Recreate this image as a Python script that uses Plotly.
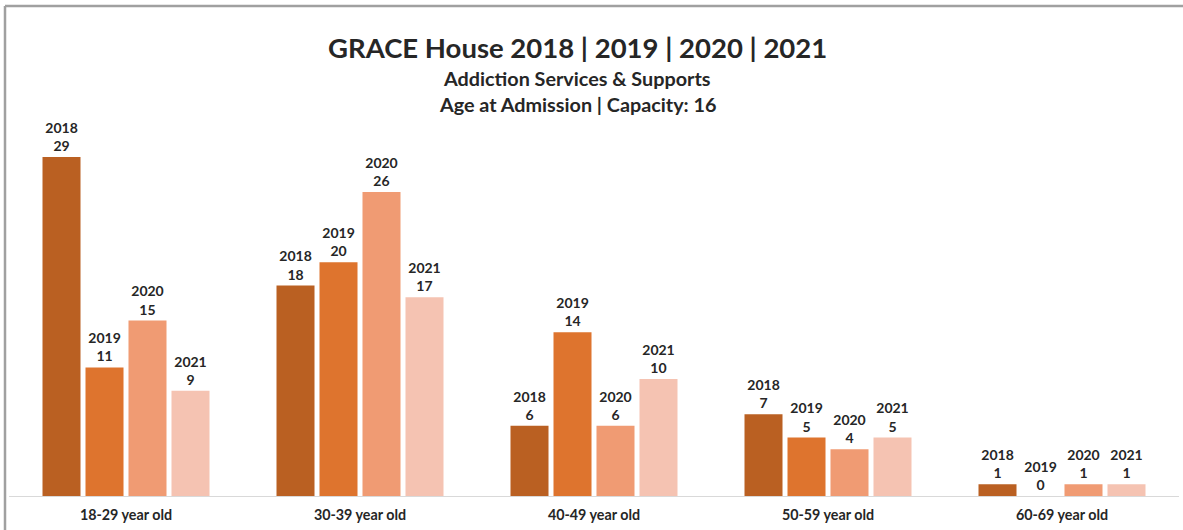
import plotly.graph_objects as go

categories = ["18-29 year old", "30-39 year old", "40-49 year old", "50-59 year old", "60-69 year old"]
years = ["2018", "2019", "2020", "2021"]
v2018 = [29, 18, 6, 7, 1]
v2019 = [11, 20, 14, 5, 0]
v2020 = [15, 26, 6, 4, 1]
v2021 = [9, 17, 10, 5, 1]
series = [v2018, v2019, v2020, v2021]
colors = ["#BA6022", "#DE742E", "#F09B73", "#F5C3B2"]

W, H = 1183, 530
L, R, T, B = 9, 4, 116, 34
pw, ph = W - L - R, H - T - B

def px(x):
    return (x - L) / pw

def py(y):
    return (H - B - y) / ph

FONT = "Lato"
fig = go.Figure()
for yr, vals, c in zip(years, series, colors):
    fig.add_trace(go.Bar(
        x=categories, y=vals, name=yr, marker=dict(color=c, line=dict(width=0)),
        texttemplate="<b>" + yr + "<br>%{y}</b>", textposition="outside",
        textfont=dict(family=FONT, size=14, color="#262626"), cliponaxis=False,
    ))

fig.update_layout(
    width=W, height=H, margin=dict(l=L, r=R, t=T, b=B),
    paper_bgcolor="white", plot_bgcolor="white", showlegend=False,
    barmode="group", bargap=0.265, bargroupgap=0.116,
    xaxis=dict(showgrid=False, showline=True, linecolor="#d9d9d9", linewidth=1,
               ticks="", tickfont=dict(family=FONT, size=14.3, color="#262626")),
    yaxis=dict(range=[0, 32.5], visible=False),
    font=dict(family=FONT),
)
fig.update_xaxes(ticklabelstandoff=6)
fig.update_xaxes(tickvals=categories, ticktext=["<b>%s</b>" % c for c in categories])

anns = [
    ("<b>GRACE House 2018 | 2019 | 2020 | 2021</b>", 47, 27.5),
    ("<b>Addiction Services & Supports</b>", 78, 19.8),
    ("<b>Age at Admission | Capacity: 16</b>", 104, 19.8),
]
for text, yc, sz in anns:
    fig.add_annotation(text=text, x=px(577), y=py(yc), xref="paper", yref="paper",
                       showarrow=False, xanchor="center", yanchor="middle",
                       font=dict(family=FONT, size=sz, color="#262626"))

# outer border (top and left)
fig.add_shape(type="line", xref="paper", yref="paper", x0=px(5), x1=px(1183), y0=py(6), y1=py(6),
              line=dict(color="#a0a0a0", width=2.5))
fig.add_shape(type="line", xref="paper", yref="paper", x0=px(5), x1=px(5), y0=py(6), y1=py(530),
              line=dict(color="#a0a0a0", width=2.5))

fig.write_html("out.html", config={"displayModeBar": False},
               post_script="document.body.style.margin='0';document.body.style.overflow='hidden';")
